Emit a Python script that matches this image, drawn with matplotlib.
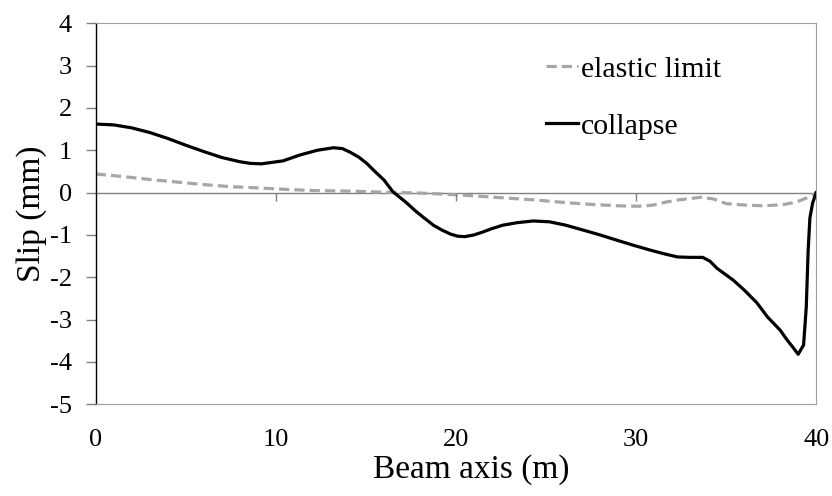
import matplotlib
matplotlib.use("Agg")
import matplotlib.pyplot as plt

plt.rcParams['font.family'] = ['Liberation Serif', 'DejaVu Serif']

collapse_x = [0, 1.0, 2.0, 3.0, 4.0, 5.0, 6.0, 7.0, 8.0, 8.6, 9.2, 10.4, 11.35, 12.3, 13.2, 13.7, 14.1,
              14.6, 15.05, 15.5, 16.0, 16.5, 17.2, 17.8, 18.3, 18.75, 19.2, 19.7, 20.1, 20.5, 21.0,
              21.5, 22.0, 22.6, 23.4, 24.3, 25.2, 26.1, 27.1, 28.0, 28.9, 29.9, 30.8, 31.6, 32.3,
              33.0, 33.7, 34.1, 34.5, 35.4, 36.0, 36.7, 37.3, 38.0, 38.4, 38.7, 39.0, 39.3,
              39.45, 39.55, 39.65, 39.8, 40.0]
collapse_y = [1.62, 1.60, 1.53, 1.42, 1.28, 1.12, 0.97, 0.83, 0.73, 0.69, 0.68, 0.75, 0.89, 1.00, 1.06, 1.04, 0.96,
              0.84, 0.69, 0.50, 0.30, 0.02, -0.22, -0.45, -0.62, -0.77, -0.88, -0.98, -1.03, -1.04, -1.00,
              -0.93, -0.85, -0.77, -0.71, -0.67, -0.69, -0.77, -0.89, -1.00, -1.12, -1.25, -1.36, -1.45, -1.52,
              -1.53, -1.53, -1.62, -1.79, -2.07, -2.30, -2.60, -2.94, -3.25, -3.49, -3.65, -3.82, -3.60,
              -2.70, -1.40, -0.60, -0.25, 0.0]

elastic_x = [0, 1.5, 3.0, 4.5, 6.0, 7.5, 8.6, 10.4, 12.0, 14.1, 16.0, 18.0, 20.0, 22.5, 24.3, 26.2, 27.6,
             28.9, 29.7, 30.4, 31.0, 31.7, 32.4, 33.0, 33.6, 34.3, 35.0, 35.9, 36.9, 37.6, 38.2, 38.7,
             39.1, 39.5, 39.85, 40.0]
elastic_y = [0.44, 0.38, 0.31, 0.25, 0.19, 0.14, 0.12, 0.08, 0.05, 0.035, 0.01, -0.01, -0.05, -0.12, -0.17, -0.24, -0.28,
             -0.31, -0.32, -0.32, -0.29, -0.22, -0.17, -0.14, -0.11, -0.15, -0.26, -0.29, -0.31, -0.30, -0.28, -0.24,
             -0.19, -0.12, -0.04, 0.0]

x_ticks = [0, 10, 20, 30, 40]
y_ticks = [-5, -4, -3, -2, -1, 0, 1, 2, 3, 4]

fig = plt.figure(figsize=(8.32, 4.96), dpi=100)
ax = fig.add_axes([0.115, 0.185, 0.866, 0.768])

ax.plot(elastic_x, elastic_y, color='#A6A6A6', lw=2.3, ls=(0, (3.2, 1.6)), label='elastic limit',
        dash_capstyle='butt')
ax.plot(collapse_x, collapse_y, color='black', lw=2.3, label='collapse')

ax.axhline(0, color='#808080', lw=1.0, zorder=1)
ax.plot(x_ticks[1:-1], [0] * 3, ls='none', marker=3, ms=6, mew=1.0, color='#808080')

ax.set_xlim(0, 40)
ax.set_ylim(-5, 4)
ax.set_xticks(x_ticks)
ax.set_yticks(y_ticks)
ax.set_yticklabels([str(v) for v in y_ticks])

for s in ['top', 'right', 'bottom']:
    ax.spines[s].set_color('#A0A0A0')
    ax.spines[s].set_linewidth(0.8)
ax.spines['left'].set_color('black')
ax.spines['left'].set_linewidth(1.0)

ax.tick_params(axis='x', length=0, pad=18, labelsize=19)
ax.tick_params(axis='y', length=7, width=1.0, color='#808080', pad=10, labelsize=19)

ax.set_xlabel('Beam axis (m)', fontsize=24)
ax.xaxis.set_label_coords(0.521, -0.131)
ax.set_ylabel('Slip (mm)', fontsize=24, labelpad=2)

leg = ax.legend(loc='upper left', bbox_to_anchor=(0.588, 0.985), frameon=False, fontsize=21.5,
                handlelength=1.05, handletextpad=0.1, labelspacing=1.0)

fig.savefig('out.png', dpi=100)
